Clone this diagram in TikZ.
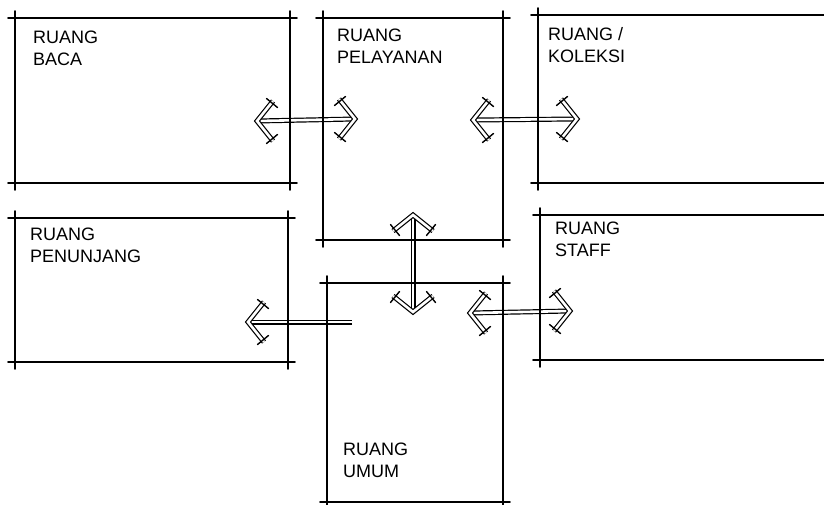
\documentclass[tikz,border=0pt]{standalone}
\usepackage{fontspec}
\setmainfont{Liberation Sans}
\begin{document}
\begin{tikzpicture}[x=1pt,y=-1pt,
  wall/.style={line width=1.7pt, line cap=round},
  room/.style={inner sep=0pt, outer sep=0pt, anchor=north west},
  roomlabel/.style={anchor=north west, align=left, inner sep=0pt, font=\fontsize{18}{22}\selectfont},
  dbl/.style={double=white, double distance=2.6pt, line width=1.2pt},
  tickline/.style={line width=1.4pt, line cap=round},
  chev/.pic={
    \draw[dbl, line join=miter] (-16,-20) -- (0,0) -- (-16,20);
    \draw[tickline] (-20.5,-13.5) -- (-9.5,-22.5);
    \draw[tickline] (-20.5,13.5) -- (-9.5,22.5);
  }]
\useasboundingbox (0,0) rectangle (824,504);

% rooms
\node[room, minimum width=275pt, minimum height=165pt] (baca) at (15,18) {};
\node[room, minimum width=180pt, minimum height=222pt] (pelayanan) at (323,18) {};
\node[room, minimum width=300pt, minimum height=168pt] (koleksi) at (538,15) {};
\node[room, minimum width=273pt, minimum height=144pt] (penunjang) at (15,218) {};
\node[room, minimum width=300pt, minimum height=145pt] (staff) at (540,215) {};
\node[room, minimum width=176pt, minimum height=219pt] (umum) at (327,283) {};

% labels
\node[roomlabel] (tbaca) at (33,31) {RUANG\\BACA};
\node[roomlabel] (tpelayanan) at (337,29) {RUANG\\PELAYANAN};
\node[roomlabel] (tkoleksi) at (548,27) {RUANG /\\KOLEKSI};
\node[roomlabel] (tpenunjang) at (30,228) {RUANG\\PENUNJANG};
\node[roomlabel] (tstaff) at (555,222) {RUANG\\STAFF};
\node[roomlabel] (tumum) at (343,443) {RUANG\\UMUM};

% arrow end points
\coordinate (a1L) at (257,121);
\coordinate (a1R) at (355,119);
\coordinate (a2L) at (473,120);
\coordinate (a2R) at (577,119);
\coordinate (a3T) at (413,215);
\coordinate (a3B) at (413,312);
\coordinate (a4S) at (352,322);
\coordinate (a4T) at (248,322);
\coordinate (a5L) at (470,313);
\coordinate (a5R) at (570,311);

% shafts
\draw[dbl] (a1L) -- (a1R);
\draw[dbl] (a2L) -- (a2R);
\draw[dbl] (a3T) -- (a3B);
\draw[dbl] (a4S) -- (a4T);
\draw[dbl] (a5L) -- (a5R);

% heads
\pic[rotate=180] at (a1L) {chev};
\pic at (a1R) {chev};
\pic[rotate=180] at (a2L) {chev};
\pic at (a2R) {chev};
\pic[rotate=90] at (a3T) {chev};
\pic[rotate=-90] at (a3B) {chev};
\pic[rotate=180] at (a4T) {chev};
\pic[rotate=180] at (a5L) {chev};
\pic at (a5R) {chev};

% walls (closed rooms, with overshooting corners)
\foreach \r in {baca,pelayanan,penunjang,umum}{
  \draw[wall] ([xshift=-7pt]\r.north west) -- ([xshift=7pt]\r.north east);
  \draw[wall] ([xshift=-7pt]\r.south west) -- ([xshift=7pt]\r.south east);
  \draw[wall] ([yshift=7pt]\r.north west) -- ([yshift=-7pt]\r.south west);
  \draw[wall] ([yshift=7pt]\r.north east) -- ([yshift=-7pt]\r.south east);
}
% walls (rooms open to the right)
\foreach \r in {koleksi,staff}{
  \draw[wall] ([xshift=-7pt]\r.north west) -- (\r.north east);
  \draw[wall] ([xshift=-7pt]\r.south west) -- (\r.south east);
  \draw[wall] ([yshift=7pt]\r.north west) -- ([yshift=-7pt]\r.south west);
}
\end{tikzpicture}
\end{document}
